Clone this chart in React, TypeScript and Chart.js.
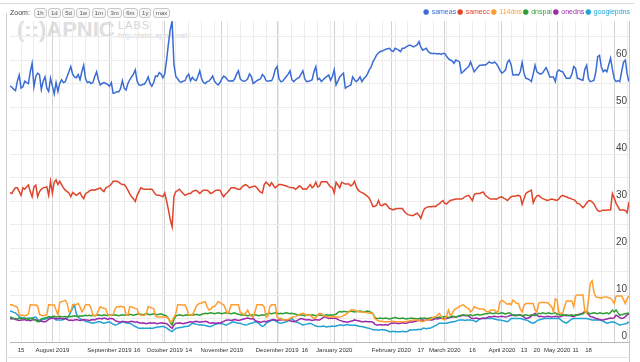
import React, { useEffect, useRef } from 'react';
import { Chart, registerables } from 'chart.js';

Chart.register(...registerables);

// Day index: days since 2019-07-01. Daily data starts at FIRST_DAY.
const FIRST_DAY = 8;
const LAST_DAY = 344;

const seriesNames = ['sameas', 'samecc', '114dns', 'dnspai', 'onedns', 'googlepdns'];
const seriesColors = ['#3a6cd4', '#e0442a', '#ff9d2e', '#2f9e35', '#9c2bac', '#22a3d4'];

const sameas = [
  54.5, 54.2, 53.8, 53.5, 55.5, 56.8, 54.0,
  54.3, 55.5, 55.2, 55.0, 57.5, 59.3, 54.3,
  56.5, 57.2, 56.9, 53.7, 55.5, 56.4, 54.0,
  53.3, 56.1, 54.5, 52.8, 55.2, 53.3, 55.0,
  55.8, 55.2, 55.4, 56.5, 57.5, 58.6, 57.0,
  56.4, 56.2, 56.9, 55.8, 57.5, 58.9, 56.0,
  55.2, 55.4, 55.0, 55.2, 56.5, 57.5, 55.8,
  54.7, 55.0, 55.2, 55.0, 54.8, 54.4, 55.2,
  52.9, 53.0, 53.3, 53.2, 53.9, 55.6, 54.0,
  53.6, 55.0, 55.8, 56.4, 57.0, 57.9, 55.5,
  54.7, 54.6, 54.8, 54.9, 55.5, 56.4, 55.0,
  54.4, 55.2, 56.6, 56.5, 57.3, 57.0, 56.2,
  57.0, 60.0, 63.5, 66.5, 68.2, 59.0, 56.5,
  56.0, 55.4, 55.3, 55.5, 55.6, 56.5, 57.0,
  55.6, 56.3, 55.8, 55.6, 56.5, 57.7, 56.0,
  55.2, 55.0, 55.4, 55.5, 56.0, 56.6, 55.5,
  55.0, 54.7, 55.2, 56.0, 56.6, 56.3, 55.8,
  55.5, 55.6, 55.5, 56.0, 57.0, 57.7, 56.0,
  55.6, 55.5, 55.6, 56.0, 57.0, 56.5, 55.0,
  55.3, 55.6, 55.8, 56.0, 56.9, 56.5, 55.6,
  55.5, 55.6, 55.6, 56.5, 58.0, 58.6, 56.0,
  55.4, 55.5, 56.0, 56.5, 57.0, 57.7, 55.8,
  55.4, 55.8, 56.1, 56.3, 57.0, 57.7, 56.0,
  55.4, 55.5, 55.6, 55.8, 57.5, 58.6, 55.8,
  56.1, 55.4, 55.8, 56.2, 56.5, 56.8, 55.7,
  56.5, 57.9, 54.7, 55.5, 56.4, 56.8, 57.2,
  54.0, 54.3, 54.5, 54.7, 56.4, 55.8, 55.4,
  55.8, 56.4, 55.4, 56.0, 56.4, 57.0, 57.9,
  58.5, 59.6, 60.3, 61.1, 61.5, 61.8, 61.9,
  62.1, 62.3, 62.4, 62.5, 62.0, 61.8, 62.5,
  62.3, 62.1, 61.8, 62.5, 62.5, 62.8, 63.0,
  63.2, 63.0, 62.8, 63.0, 63.2, 63.9, 62.8,
  62.1, 62.3, 62.5, 61.8, 61.5, 61.4, 61.4,
  61.4, 61.3, 61.4, 61.2, 61.4, 61.4, 60.8,
  60.3, 60.0, 59.8, 59.3, 60.0, 59.8, 59.6,
  57.2, 57.5, 57.9, 58.3, 58.6, 59.6, 58.5,
  57.5, 58.0, 58.5, 58.9, 58.9, 59.0, 58.9,
  59.2, 59.6, 59.4, 59.3, 59.6, 59.2, 58.6,
  57.8, 57.2, 57.5, 57.9, 59.5, 60.0, 59.0,
  56.8, 56.8, 56.9, 56.8, 57.5, 59.5, 57.2,
  56.1, 56.0, 55.8, 55.4, 57.0, 58.9, 57.5,
  57.2, 57.0, 57.2, 57.8, 58.4, 57.5, 56.4,
  56.4, 56.4, 55.4, 57.5, 57.9, 57.6, 57.5,
  56.8, 56.1, 56.1, 56.1, 57.0, 58.6, 58.2,
  56.1, 56.0, 55.8, 55.7, 58.0, 58.9, 56.0,
  55.4, 55.5, 55.7, 57.5, 60.7, 61.0, 58.5,
  57.5, 57.9, 57.5, 59.0, 60.4, 58.0, 56.0,
  55.4, 55.6, 55.4, 57.5, 59.5, 60.0, 57.0,
  55.4,
];

const samecc = [
  31.8, 31.6, 32.3, 32.8, 32.8, 32.0, 31.2,
  32.8, 32.5, 33.0, 33.4, 32.0, 30.9, 33.0,
  33.4, 30.9, 32.0, 32.5, 32.8, 32.9, 33.0,
  31.2, 34.2, 31.7, 34.0, 34.5, 33.5, 34.2,
  33.5, 32.8, 32.3, 32.0, 31.7, 30.9, 31.8,
  31.5, 31.2, 31.5, 31.8, 31.0, 30.5, 31.6,
  31.8, 32.1, 32.3, 32.4, 32.3, 32.5, 32.6,
  32.8, 32.3, 32.0, 32.8, 33.0, 33.2, 33.6,
  34.2, 34.2, 34.2, 34.0, 33.7, 33.5, 33.5,
  33.0, 32.3, 31.5, 30.9, 30.5, 29.9, 31.2,
  32.0, 32.8, 32.6, 32.5, 32.5, 32.5, 32.5,
  32.5, 32.0, 31.4, 31.2, 31.2, 31.1, 30.9,
  31.7, 30.0, 28.1, 26.0, 24.5, 31.0, 32.0,
  32.2, 32.5, 32.0, 31.6, 31.2, 31.4, 31.6,
  31.6, 32.0, 32.2, 32.3, 32.0, 31.6, 32.0,
  32.3, 32.3, 32.3, 32.0, 31.6, 31.8, 32.1,
  32.3, 32.3, 32.3, 31.5, 30.9, 31.5, 31.8,
  32.3, 32.8, 32.8, 32.8, 32.6, 32.5, 32.5,
  33.0, 33.3, 33.5, 33.2, 32.8, 33.0, 33.1,
  33.2, 32.8, 32.3, 31.9, 31.7, 33.5, 34.0,
  33.6, 33.2, 33.9, 33.3, 32.8, 33.2, 33.5,
  33.5, 33.4, 33.3, 33.2, 33.0, 32.9, 32.8,
  32.8, 32.5, 32.8, 33.2, 33.0, 32.5, 32.6,
  32.5, 33.0, 33.5, 32.8, 33.2, 34.0, 33.0,
  33.2, 34.1, 34.1, 34.1, 34.1, 33.5, 33.0,
  32.8, 31.7, 34.0, 33.4, 32.8, 34.0, 33.8,
  33.6, 33.6, 33.6, 33.2, 33.5, 34.2, 33.0,
  32.3, 32.0, 31.8, 31.6, 31.3, 31.0, 30.6,
  29.8, 28.8, 28.9, 29.1, 30.1, 29.1, 29.0,
  29.3, 29.4, 28.9, 28.4, 28.3, 28.1, 28.3,
  28.4, 28.4, 28.4, 28.4, 27.8, 27.4, 27.1,
  27.0, 26.9, 26.9, 27.2, 27.4, 27.0, 26.3,
  27.5, 28.4, 28.6, 28.8, 28.8, 28.8, 28.9,
  28.8, 29.2, 29.4, 29.8, 30.1, 29.5, 29.4,
  29.8, 30.1, 30.2, 30.3, 30.4, 30.4, 30.4,
  30.4, 30.6, 30.9, 31.1, 31.2, 30.6, 30.1,
  31.4, 31.6, 31.6, 31.6, 31.8, 31.9, 31.2,
  30.9, 30.6, 30.4, 30.4, 30.5, 30.4, 30.6,
  30.8, 30.9, 30.6, 30.4, 30.1, 30.5, 30.9,
  31.0, 31.0, 31.1, 31.2, 31.0, 29.3, 30.5,
  31.6, 31.9, 32.1, 32.3, 29.6, 30.5, 31.1,
  31.2, 30.8, 30.5, 30.4, 30.2, 30.1, 30.3,
  30.4, 30.3, 30.2, 30.1, 30.5, 31.0, 31.2,
  31.0, 30.9, 30.7, 30.6, 30.4, 30.3, 30.0,
  29.5, 29.4, 29.0, 28.6, 29.0, 29.6, 30.0,
  30.1, 29.8, 29.4, 28.6, 28.0, 27.8, 27.9,
  28.1, 28.0, 28.1, 28.1, 28.1, 31.6, 30.6,
  29.5, 28.8, 28.1, 28.1, 28.1, 28.0, 27.5,
  29.8,
];

const dns114 = [
  7.9, 7.9, 7.7, 7.6, 7.4, 5.8, 5.7,
  5.7, 5.6, 5.7, 6.0, 7.9, 7.9, 7.8,
  7.9, 7.6, 5.9, 5.7, 5.6, 5.7, 5.8,
  7.9, 7.9, 7.8, 7.9, 6.8, 5.8, 8.4,
  8.6, 8.7, 8.9, 8.2, 6.4, 6.5, 7.9,
  7.9, 8.0, 8.2, 7.5, 6.4, 7.0, 7.9,
  7.9, 7.9, 7.2, 5.7, 5.6, 5.7, 6.8,
  7.5, 7.3, 7.2, 7.0, 5.8, 5.7, 5.7,
  5.8, 7.0, 7.5, 7.5, 7.6, 7.5, 7.4,
  5.8, 5.7, 7.5, 7.5, 7.3, 7.1, 7.0,
  5.9, 5.7, 5.7, 5.7, 6.0, 7.5, 7.4,
  7.2, 7.1, 5.5, 5.3, 5.3, 5.3, 5.3,
  5.3, 5.3, 5.0, 4.3, 4.5, 5.3, 6.0,
  7.9, 7.9, 7.9, 7.8, 7.9, 7.0, 5.8,
  5.7, 5.8, 6.5, 7.5, 8.0, 8.2, 8.3,
  8.5, 8.6, 7.5, 6.8, 7.0, 7.5, 7.6,
  8.0, 8.6, 8.4, 8.1, 7.9, 7.0, 6.1,
  6.5, 7.9, 7.9, 7.9, 7.9, 7.9, 6.3,
  6.1, 5.8, 6.2, 6.8, 6.0, 5.5, 5.3,
  6.5, 7.9, 7.9, 7.9, 7.9, 7.5, 5.3,
  5.5, 7.5, 7.9, 7.9, 7.9, 5.3, 5.0,
  5.0, 4.8, 4.7, 4.7, 4.8, 5.0, 5.3,
  5.3, 5.4, 5.6, 5.8, 6.0, 6.1, 5.9,
  5.7, 5.8, 5.7, 5.3, 5.0, 5.2, 5.8,
  6.1, 6.0, 5.7, 5.5, 5.4, 5.3, 5.3,
  5.4, 5.3, 5.3, 5.3, 5.3, 5.4, 5.6,
  5.8, 6.1, 6.4, 6.8, 6.8, 6.8, 6.6,
  6.5, 6.4, 6.4, 6.4, 6.3, 6.2, 6.1,
  6.1, 6.1, 5.0, 4.7, 4.5, 4.4, 4.4,
  4.3, 4.3, 4.3, 4.3, 4.4, 4.4, 4.3,
  4.3, 4.3, 4.3, 4.3, 4.3, 4.3, 4.4,
  4.5, 4.6, 4.7, 4.7, 4.7, 4.5, 4.4,
  4.3, 4.5, 4.7, 4.7, 4.8, 5.1, 5.3,
  5.3, 5.7, 6.1, 5.5, 4.8, 4.7, 5.5,
  6.8, 5.7, 6.0, 6.8, 7.1, 7.3, 7.6,
  7.8, 7.9, 7.6, 7.3, 7.1, 6.4, 6.8,
  7.5, 7.3, 7.2, 7.0, 7.0, 7.0, 6.7,
  6.4, 6.5, 6.8, 6.8, 6.8, 6.4, 6.6,
  8.5, 8.9, 8.6, 8.3, 8.0, 8.2, 7.9,
  8.9, 8.6, 8.2, 8.2, 7.0, 6.4, 7.8,
  8.2, 8.2, 8.2, 8.2, 8.2, 6.8, 6.4,
  8.3, 8.4, 8.4, 8.4, 8.4, 8.3, 7.9,
  7.5, 6.4, 9.2, 8.9, 6.1, 6.1, 6.1,
  7.5, 8.7, 8.7, 8.7, 8.7, 7.5, 9.8,
  10.0, 10.0, 10.0, 10.0, 6.5, 6.1, 9.0,
  12.5, 13.0, 10.5, 9.6, 9.5, 9.4, 9.3,
  9.5, 9.6, 9.6, 9.4, 9.3, 8.8, 8.2,
  9.8, 9.8, 9.8, 9.8, 9.0, 8.2, 9.3,
  9.8,
];

const dnspai = [
  5.4, 5.2, 5.0, 5.0, 4.9, 5.1, 5.0,
  5.0, 5.1, 4.9, 4.8, 5.0, 5.1, 4.8,
  4.6, 4.3, 4.6, 4.9, 5.0, 5.1, 5.2,
  5.4, 5.3, 5.4, 5.5, 5.3, 5.4, 5.5,
  5.4, 5.3, 5.4, 5.3, 5.5, 5.4, 5.5,
  5.6, 5.5, 5.4, 5.6, 5.5, 5.6, 5.7,
  5.6, 5.7, 5.6, 5.7, 5.6, 5.7, 5.8,
  5.7, 5.6, 5.8, 5.7, 5.6, 5.8, 5.7,
  5.7, 5.8, 5.7, 5.6, 5.7, 5.8, 5.7,
  5.8, 5.7, 5.9, 5.8, 5.7, 5.8, 5.9,
  6.0, 5.9, 5.8, 5.9, 6.0, 5.9, 5.8,
  5.9, 6.0, 5.9, 5.8, 5.9, 6.0, 5.8,
  5.7, 5.5, 5.0, 4.2, 3.6, 4.8, 5.5,
  5.7, 5.8, 5.7, 5.6, 5.7, 5.8, 5.7,
  5.8, 5.7, 5.8, 5.9, 5.8, 5.7, 5.9,
  6.0, 6.1, 6.0, 6.1, 6.2, 6.1, 6.0,
  6.1, 6.2, 6.1, 6.0, 6.1, 6.2, 6.1,
  6.1, 6.0, 6.1, 6.2, 6.0, 5.9, 5.8,
  5.7, 5.8, 5.7, 5.6, 5.7, 5.8, 5.7,
  5.8, 5.7, 5.6, 5.7, 5.8, 5.7, 5.9,
  6.0, 6.1, 6.0, 6.1, 6.2, 6.1, 6.0,
  6.1, 6.0, 6.1, 6.2, 6.1, 6.0, 6.1,
  6.0, 5.9, 5.8, 5.7, 5.8, 5.7, 5.6,
  5.7, 5.8, 5.7, 5.8, 5.7, 5.6, 5.7,
  5.8, 5.7, 5.6, 5.7, 5.8, 5.7, 5.8,
  5.7, 5.8, 5.9, 6.3, 6.5, 6.4, 6.5,
  6.5, 6.4, 6.5, 6.6, 6.5, 6.4, 6.5,
  6.5, 6.6, 6.5, 6.4, 6.5, 6.6, 6.5,
  6.3, 6.0, 5.3, 5.0, 5.0, 5.1, 5.0,
  5.0, 5.1, 5.0, 4.9, 5.0, 5.1, 5.2,
  5.1, 5.0, 5.0, 5.1, 5.0, 4.9, 5.0,
  5.0, 5.1, 5.0, 5.0, 4.9, 5.0, 5.1,
  5.0, 5.1, 5.0, 5.0, 5.1, 5.2, 5.1,
  5.2, 5.2, 5.3, 5.2, 5.3, 5.4, 5.3,
  5.2, 5.3, 5.5, 5.4, 5.3, 5.5, 5.6,
  5.7, 5.8, 5.7, 5.6, 5.7, 5.8, 5.6,
  5.7, 5.8, 5.9, 5.7, 5.8, 5.9, 6.0,
  6.0, 6.1, 6.2, 6.0, 6.1, 6.2, 6.0,
  6.1, 6.2, 6.1, 5.9, 6.1, 6.2, 6.0,
  5.7, 5.8, 5.6, 5.7, 5.8, 5.6, 5.7,
  5.8, 5.7, 5.6, 5.8, 5.7, 5.6, 5.9,
  6.1, 6.0, 6.2, 6.1, 6.0, 6.2, 6.1,
  6.0, 6.1, 6.2, 5.9, 5.8, 5.7, 5.8,
  5.7, 5.8, 5.6, 5.7, 5.8, 5.6, 5.8,
  5.7, 5.8, 5.9, 6.0, 6.3, 6.5, 6.2,
  6.0, 6.1, 6.2, 6.1, 6.0, 6.2, 6.1,
  6.0, 6.1, 6.2, 6.0, 6.3, 6.8, 6.4,
  6.8, 6.2, 5.7, 5.8, 5.9, 6.0, 6.1,
  6.1,
];

const onedns = [
  5.0, 4.9, 5.0, 4.8, 4.7, 4.6, 4.7,
  4.7, 4.8, 4.6, 4.7, 4.5, 4.7, 4.8,
  4.7, 4.6, 4.5, 4.4, 4.3, 4.3, 4.5,
  4.8, 5.0, 5.1, 5.0, 4.9, 5.0, 5.1,
  5.0, 4.9, 5.0, 4.8, 4.6, 4.7, 4.6,
  4.7, 4.8, 4.7, 4.6, 4.7, 4.8, 4.7,
  4.7, 4.6, 4.7, 4.8, 4.7, 4.9, 5.0,
  5.0, 4.9, 5.1, 5.0, 4.8, 5.0, 5.0,
  4.9, 4.6, 4.4, 4.3, 4.2, 4.4, 4.3,
  4.3, 4.2, 4.3, 4.4, 4.3, 4.2, 4.3,
  4.1, 4.0, 4.1, 4.0, 3.9, 4.0, 4.1,
  4.0, 4.1, 4.0, 3.9, 4.0, 4.1, 4.0,
  4.0, 3.9, 3.6, 3.2, 2.9, 3.6, 4.0,
  4.0, 4.1, 4.0, 3.9, 4.0, 4.1, 4.2,
  4.3, 4.2, 4.3, 4.4, 4.3, 4.2, 4.3,
  4.3, 4.4, 4.3, 4.1, 4.0, 4.1, 4.0,
  4.0, 4.1, 4.0, 4.2, 4.4, 4.6, 4.7,
  4.7, 4.6, 4.7, 4.8, 4.7, 4.6, 4.7,
  4.8, 4.9, 5.0, 5.1, 5.0, 4.9, 5.0,
  4.6, 4.4, 4.3, 4.2, 4.3, 4.4, 4.3,
  4.5, 4.6, 4.7, 4.8, 4.7, 4.6, 4.7,
  4.7, 4.8, 4.7, 4.6, 4.7, 4.5, 4.4,
  4.3, 4.4, 4.6, 4.8, 5.0, 4.9, 4.8,
  4.7, 4.8, 4.7, 4.6, 4.7, 4.8, 4.7,
  4.7, 4.9, 5.2, 5.4, 5.2, 5.0, 5.1,
  5.0, 5.1, 5.0, 4.8, 4.6, 4.5, 4.3,
  4.3, 4.2, 4.3, 4.4, 4.5, 4.7, 4.6,
  4.5, 4.4, 4.3, 4.3, 4.4, 4.3, 4.3,
  4.3, 4.2, 3.8, 3.6, 3.6, 3.7, 3.6,
  3.6, 3.7, 3.6, 3.8, 4.0, 4.0, 4.1,
  4.0, 3.9, 4.0, 4.1, 4.0, 4.0, 4.1,
  4.3, 4.2, 4.3, 4.4, 4.5, 4.6, 4.7,
  4.7, 4.6, 4.7, 4.8, 4.7, 4.7, 4.8,
  5.0, 4.9, 5.0, 5.1, 5.0, 4.9, 5.0,
  5.1, 5.2, 5.3, 5.4, 5.3, 5.4, 5.5,
  5.6, 5.7, 5.6, 5.7, 5.5, 5.2, 5.0,
  5.0, 5.1, 5.0, 4.9, 5.0, 5.1, 5.0,
  5.2, 5.4, 5.3, 5.4, 5.5, 5.4, 5.3,
  5.4, 5.5, 5.4, 5.3, 5.4, 5.6, 5.7,
  5.7, 5.6, 5.7, 5.8, 5.7, 5.6, 5.3,
  5.0, 5.1, 5.2, 5.5, 5.8, 6.1, 5.7,
  5.4, 5.5, 5.4, 5.3, 5.4, 5.5, 5.4,
  5.3, 5.4, 5.5, 5.4, 5.3, 5.4, 5.6,
  5.7, 5.6, 5.7, 5.6, 5.5, 5.4, 5.6,
  5.8, 5.9, 6.0, 6.2, 6.5, 6.3, 5.9,
  5.4, 5.3, 5.2, 5.0, 4.9, 4.8, 4.7,
  4.7, 4.8, 4.9, 5.0, 5.1, 5.0, 5.2,
  5.7, 5.5, 5.2, 5.0, 5.1, 5.4, 5.8,
  6.0,
];

const googlepdns = [
  6.6, 6.5, 6.3, 6.2, 5.8, 5.4, 5.2,
  5.1, 5.0, 5.0, 5.1, 5.0, 5.0, 5.2,
  5.3, 4.8, 4.3, 4.6, 4.8, 4.9, 5.0,
  5.1, 5.2, 5.3, 5.0, 4.7, 4.7, 4.7,
  4.7, 4.8, 5.0, 5.0, 5.6, 6.4, 7.2,
  7.9, 6.0, 5.3, 5.0, 4.7, 4.6, 4.4,
  4.3, 4.2, 4.1, 4.0, 4.1, 4.2, 4.3,
  4.3, 4.1, 4.0, 4.1, 4.2, 4.3, 4.0,
  3.8, 3.6, 3.7, 3.9, 4.1, 4.3, 4.2,
  4.1, 4.0, 4.0, 3.8, 3.5, 3.3, 3.1,
  2.9, 2.9, 3.0, 2.9, 2.9, 2.9, 3.0,
  2.9, 3.0, 3.1, 3.2, 3.2, 3.3, 3.3,
  3.2, 3.0, 2.7, 2.4, 2.2, 2.6, 2.9,
  3.0, 3.1, 3.1, 3.2, 3.3, 3.3, 3.4,
  3.7, 4.0, 3.9, 3.8, 3.7, 3.6, 3.6,
  3.6, 3.5, 3.4, 3.3, 3.3, 3.5, 3.7,
  3.8, 3.9, 4.0, 3.9, 3.8, 3.6, 3.7,
  3.9, 4.1, 4.3, 4.2, 4.1, 4.0, 4.0,
  3.8, 3.7, 3.6, 3.7, 3.9, 4.0, 4.1,
  4.3, 4.2, 4.0, 3.6, 3.3, 3.5, 4.0,
  4.2, 4.4, 4.6, 4.7, 4.5, 4.3, 4.1,
  4.0, 4.1, 4.2, 4.3, 4.5, 4.8, 5.0,
  4.6, 4.3, 4.2, 4.0, 3.8, 3.6, 3.7,
  3.8, 3.9, 4.0, 3.8, 3.6, 3.4, 3.3,
  3.3, 3.3, 3.4, 3.3, 3.2, 3.3, 3.3,
  3.4, 3.3, 3.4, 3.5, 3.6, 3.6, 3.5,
  3.6, 3.7, 3.6, 3.6, 3.5, 3.6, 3.5,
  3.4, 3.3, 3.3, 3.2, 3.1, 3.0, 2.9,
  2.8, 2.6, 2.6, 2.6, 2.5, 2.6, 2.6,
  2.6, 2.5, 2.4, 2.2, 2.2, 2.3, 2.2,
  2.2, 2.2, 2.2, 2.3, 2.2, 2.2, 2.3,
  2.6, 2.5, 2.6, 2.6, 2.6, 2.7, 2.6,
  2.9, 2.9, 2.8, 2.9, 2.9, 3.1, 3.3,
  3.5, 3.7, 4.0, 4.0, 4.0, 4.0, 4.0,
  4.1, 4.2, 4.3, 4.3, 4.4, 4.6, 4.7,
  4.7, 4.7, 4.6, 4.7, 4.7, 4.7, 4.6,
  4.5, 4.3, 4.6, 5.0, 5.0, 5.0, 5.0,
  5.0, 5.0, 5.0, 5.0, 4.9, 4.8, 4.7,
  4.7, 4.6, 4.5, 4.4, 4.3, 4.6, 5.0,
  5.0, 5.0, 5.0, 5.0, 5.0, 4.9, 4.8,
  4.7, 4.6, 4.3, 4.1, 4.0, 4.2, 4.5,
  4.7, 4.8, 4.9, 5.0, 5.0, 5.0, 5.0,
  5.0, 5.0, 5.0, 5.0, 5.0, 4.7, 4.4,
  4.2, 4.0, 4.3, 4.6, 4.9, 5.0, 5.0,
  5.0, 5.0, 5.0, 5.0, 5.0, 5.0, 4.9,
  4.8, 4.7, 4.7, 4.7, 4.7, 4.7, 4.6,
  4.4, 4.2, 4.0, 4.1, 4.2, 4.3, 4.2,
  4.0, 3.8, 3.6, 3.7, 3.8, 3.9, 4.0,
  4.3,
];

// Tick labels (day index -> text)
const tickDays = [14, 31, 62, 77, 92, 105, 123, 153, 168, 184, 215, 231, 244, 259, 275, 287, 294, 305, 315, 322];
const tickTexts = [
  '15', 'August 2019', 'September 2019', '16', 'October 2019', '14', 'November 2019',
  'December 2019', '16', 'January 2020', 'February 2020', '17', 'March 2020', '16',
  'April 2020', '13', '20', 'May 2020', '11', '18',
];
// Month starts (day index)
const monthStartDays = [31, 62, 92, 123, 153, 184, 215, 244, 275, 305, 336];
// Weekly (Monday) grid days
const mondayDays = [
  14, 21, 28, 35, 42, 49, 56, 63, 70, 77, 84, 91, 98, 105, 112, 119, 126, 133, 140, 147,
  154, 161, 168, 175, 182, 189, 196, 203, 210, 217, 224, 231, 238, 245, 252, 259, 266,
  273, 280, 287, 294, 301, 308, 315, 322, 329, 336, 343,
];
const yGridValues = [0, 5, 10, 15, 20, 25, 30, 35, 40, 45, 50, 55, 60, 65];
const Y_MAX = 68.3;

const zoomButtons = ['1h', '1d', '5d', '1w', '1m', '3m', '6m', '1y', 'max'];

const FONT = '"Liberation Sans", Arial, Helvetica, sans-serif';

export default function App() {
  const canvasRef = useRef<HTMLCanvasElement | null>(null);

  useEffect(() => {
    const canvas = canvasRef.current;
    if (!canvas) return;
    const seriesData = [sameas, samecc, dns114, dnspai, onedns, googlepdns];
    const n = sameas.length;
    const labels = Array.from({ length: n }, (_, i) => FIRST_DAY + i);
    const gridDays = Array.from(new Set([...mondayDays, ...monthStartDays])).sort((a, b) => a - b);
    const labelMap = new Map<number, string>();
    tickDays.forEach((d, i) => labelMap.set(d, tickTexts[i]));

    const legendHeightPlugin = {
      id: 'legendHeight',
      afterInit(chart: any) {
        const lg = chart.legend;
        if (!lg) return;
        const orig = lg.fit.bind(lg);
        lg.fit = () => {
          orig();
          lg.height = 14.5;
        };
      },
    };

    const chart = new Chart(canvas, {
      type: 'line',
      data: {
        labels,
        datasets: seriesNames.map((name, i) => ({
          label: name,
          data: seriesData[i],
          borderColor: seriesColors[i],
          backgroundColor: seriesColors[i],
          borderWidth: 1.5,
          pointRadius: 0,
          pointHoverRadius: 0,
          tension: 0,
          fill: false,
        })),
      },
      options: {
        responsive: false,
        animation: false,
        devicePixelRatio: 1,
        events: [],
        layout: { padding: { top: 6.5, left: 10, right: 8, bottom: 0 } },
        plugins: {
          tooltip: { enabled: false },
          legend: {
            display: true,
            position: 'top',
            align: 'end',
            labels: {
              usePointStyle: true,
              boxWidth: 4,
              boxHeight: 3.6,
              padding: 2,
              font: { family: FONT, size: 7 },
              generateLabels: (c: any) => {
                const items = (Chart.defaults as any).plugins.legend.labels.generateLabels(c);
                items.forEach((it: any) => {
                  it.fontColor = seriesColors[it.datasetIndex];
                  it.lineWidth = 0.5;
                });
                return items;
              },
            },
          },
        },
        scales: {
          x: {
            type: 'linear',
            min: FIRST_DAY,
            max: LAST_DAY,
            afterBuildTicks: (s: any) => {
              s.ticks = gridDays.map((v) => ({ value: v }));
            },
            afterFit: (s: any) => {
              s.height = 20;
            },
            grid: {
              color: (ctx: any) =>
                ctx.tick && monthStartDays.includes(ctx.tick.value) ? '#d2d2d2' : '#ececec',
              drawTicks: false,
              lineWidth: 1,
            },
            border: { display: true, color: '#b8b8b8' },
            ticks: {
              autoSkip: false,
              maxRotation: 0,
              minRotation: 0,
              padding: 4.5,
              color: '#333',
              font: { family: FONT, size: 6 },
              callback: (v: any) => labelMap.get(Number(v)) ?? '',
            },
          },
          y: {
            type: 'linear',
            position: 'right',
            min: 0,
            max: Y_MAX,
            afterBuildTicks: (s: any) => {
              s.ticks = yGridValues.map((v) => ({ value: v }));
            },
            afterFit: (s: any) => {
              s.width = 3;
            },
            grid: { color: '#ececec', drawTicks: false, lineWidth: 1 },
            border: { display: true, color: '#c4c4c4' },
            ticks: {
              mirror: true,
              padding: -2,
              labelOffset: -6,
              color: '#444',
              font: { family: FONT, size: 10 },
              callback: (v: any) => (Number(v) % 10 === 0 ? String(v) : ''),
            },
          },
        },
      } as any,
      plugins: [legendHeightPlugin],
    });

    return () => chart.destroy();
  }, []);

  return (
    <div style={{ position: 'absolute', left: 0, top: 0, width: 640, height: 362, overflow: 'hidden', background: '#fff', fontFamily: FONT }}>
      {/* watermark */}
      <div style={{ position: 'absolute', left: 17, top: 19, fontSize: 22, lineHeight: 1, fontWeight: 'bold', color: '#dedede', whiteSpace: 'nowrap' }}>
        (::)APNIC
      </div>
      <div style={{ position: 'absolute', left: 118, top: 19.5, fontSize: 11, lineHeight: 1, color: '#d4d4d4', letterSpacing: 1, whiteSpace: 'nowrap' }}>
        LABS
      </div>
      <div style={{ position: 'absolute', left: 118, top: 32, fontSize: 8, lineHeight: 1, color: '#d4d4d4', whiteSpace: 'nowrap' }}>
        http://labs.apnic.net/
      </div>
      {/* frame lines */}
      <div style={{ position: 'absolute', left: 0, top: 3, width: 634, height: 1, background: '#dcdcdc' }} />
      <div style={{ position: 'absolute', left: 6, top: 13, width: 1, height: 349, background: '#cfcfcf' }} />
      <div style={{ position: 'absolute', left: 629, top: 342, width: 1, height: 20, background: '#c4c4c4' }} />
      <div style={{ position: 'absolute', left: 6, top: 357, width: 624, height: 1, background: '#e2e2e2' }} />
      <canvas ref={canvasRef} width={640} height={362} style={{ position: 'absolute', left: 0, top: 0, width: 640, height: 362 }} />
      {/* zoom bar */}
      <div style={{ position: 'absolute', left: 10, top: 7, height: 11, display: 'flex', alignItems: 'center', fontSize: 7, color: '#444', whiteSpace: 'nowrap' }}>
        <span style={{ marginRight: 4 }}>Zoom:</span>
        {zoomButtons.map((b) => (
          <span
            key={b}
            style={{
              display: 'inline-block',
              fontSize: 6,
              lineHeight: '8px',
              height: 8,
              padding: '0 2px',
              marginRight: 1.5,
              border: '1px solid #c8c8c8',
              borderRadius: 3,
              background: '#f6f6f6',
              color: '#555',
            }}
          >
            {b}
          </span>
        ))}
      </div>
    </div>
  );
}
